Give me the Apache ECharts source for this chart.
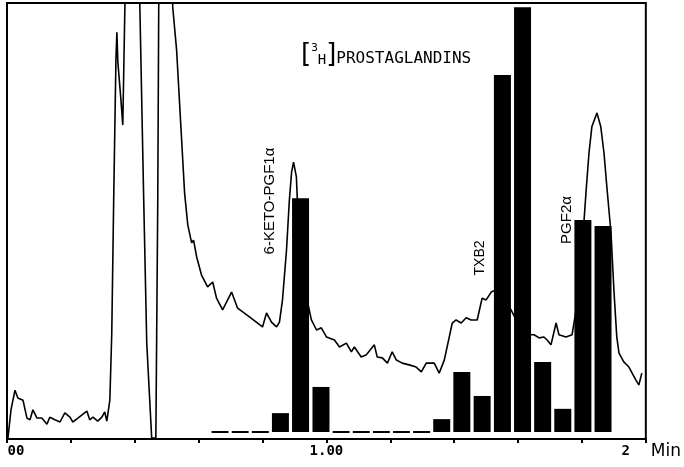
<!DOCTYPE html>
<html>
    <head>
        <meta charset="utf-8">
        <title>[3H] prostaglandins</title>
        <script src="https://cdn.jsdelivr.net/npm/echarts@6/dist/echarts.min.js"></script>
        <style>
            body { margin: 0; background: #fff; }
        </style>
    </head>
    <body>
        <div id="main" style="width:684px; height:467px;"></div>
        <script type="text/javascript">
            // detector trace (min, % of full scale; >100 = off scale)
            var traceTime = [0.003, 0.0125, 0.025, 0.034, 0.05, 0.0625, 0.072, 0.081, 0.094, 0.109, 0.125, 0.134, 0.15, 0.166, 0.181, 0.197, 0.206, 0.222, 0.25, 0.259, 0.269, 0.284, 0.297, 0.306, 0.3125, 0.322, 0.328, 0.334, 0.341, 0.344, 0.347, 0.356, 0.3625, 0.369, 0.375, 0.409, 0.416, 0.428, 0.4375, 0.453, 0.466, 0.472, 0.475, 0.481, 0.5125, 0.519, 0.531, 0.556, 0.566, 0.578, 0.584, 0.594, 0.609, 0.628, 0.644, 0.656, 0.675, 0.703, 0.722,
                0.728, 0.759, 0.8, 0.8125, 0.828, 0.844, 0.853, 0.8625, 0.875, 0.884, 0.891, 0.897, 0.906, 0.909, 0.925, 0.9375, 0.953, 0.969, 0.984, 1.0, 1.025, 1.041, 1.0625, 1.078, 1.0875, 1.109, 1.125, 1.15, 1.159, 1.175, 1.191, 1.206, 1.219, 1.2375, 1.259, 1.281, 1.297, 1.3125, 1.3375, 1.353, 1.369, 1.394, 1.406, 1.422, 1.4375, 1.453, 1.472, 1.4875, 1.5, 1.516, 1.531, 1.547, 1.5625, 1.578, 1.594, 1.603, 1.619, 1.634, 1.65, 1.666, 1.681, 1.691, 1.703, 1.719, 1.728, 1.75, 1.769, 1.784, 1.8, 1.8125, 1.822, 1.831, 1.847, 1.859, 1.869, 1.878, 1.891, 1.9, 1.909, 1.916, 1.931, 1.947, 1.969, 1.978, 1.9875]
            var traceSignal = [0.2, 6.7, 11.2, 9.4, 8.9, 4.8, 4.4, 6.7, 4.8, 4.8, 3.4, 5.0, 4.4, 3.9, 6.0, 5.0, 3.9, 4.8, 6.4, 4.4, 5.0, 4.1, 5.0, 6.2, 4.1, 8.9, 24.3, 54.8, 86.9, 93.3, 86.5, 78.4, 72.0, 98.9, 115, 115, 98.9, 54.8, 22.0, 0.2, 0.2, 54.8, 98.9, 115, 115, 98.9, 89.2, 56.4, 49.1, 45.0, 45.6, 41.7, 37.6, 34.9, 36.0, 32.3, 29.6, 33.7, 30.0,
                30.0, 28.0, 25.7, 28.9, 26.8, 25.7, 26.8, 31.9, 43.3, 54.8, 61.2, 63.5, 60.1, 54.8, 39.4, 32.6, 27.3, 25.0, 25.5, 23.4, 22.7, 21.1, 22.0, 20.0, 21.1, 18.8, 19.3, 21.6, 18.8, 18.6, 17.4, 20.0, 18.1, 17.4, 17.0, 16.5, 15.4, 17.4, 17.4, 15.1, 18.1, 26.6, 27.3, 26.6, 27.8, 27.3, 27.3, 32.3, 31.9, 33.7, 34.2, 33.5, 31.4, 29.6, 27.3, 28.0, 25.5, 23.9, 23.9, 23.2, 23.4, 22.7, 21.6, 26.6, 23.9, 23.4, 23.9, 30.7, 43.3, 56.4, 65.6, 71.6, 74.8, 71.6, 65.6, 57.8, 47.2, 34.2, 23.4, 19.7, 17.7, 16.5, 13.5, 12.4, 15.1]

            // collected fractions (min) and radioactivity (% of scale)
            var fracTime = [0.667, 0.730, 0.793, 0.856, 0.919, 0.983, 1.046, 1.109, 1.172, 1.235, 1.298, 1.361, 1.424, 1.4875, 1.551, 1.614, 1.677, 1.740, 1.803, 1.866]
            var fracCount = [0, 0, 0, 4.4, 54.5, 10.5, 0, 0, 0, 0, 0, 3.0, 14.0, 8.4, 83.2, 99, 16.3, 5.4, 49.4, 48.0]

            var xTicks = {0: '{a|00}', 1: '1.00', 2: '{c|2}'}

            var trace = []
            for (var i = 0; i < traceTime.length; i++) {
                trace.push([traceTime[i], traceSignal[i]])
            }
            var bars = []
            var dashes = []
            var half = 0.0265
            for (var j = 0; j < fracTime.length; j++) {
                bars.push([fracTime[j], fracCount[j]])
                if (fracCount[j] === 0) {
                    dashes.push({coords: [[fracTime[j] - half, 0], [fracTime[j] + half, 0]]})
                }
            }

            var myChart = echarts.init(document.querySelector('#main'))
            var option = {
                animation: false,
                grid: {
                    left: 7, right: 37, top: 3, bottom: 28,
                    show: true, borderColor: '#000', borderWidth: 2
                },
                xAxis: {
                    type: 'value', min: 0, max: 2, interval: 0.2,
                    name: 'Min', nameLocation: 'end', nameGap: 5,
                    nameTextStyle: {
                        color: '#000', fontSize: 17, fontFamily: 'DejaVu Sans',
                        verticalAlign: 'top', padding: [4, 0, 0, 0]
                    },
                    axisLine: {lineStyle: {color: '#000', width: 2}},
                    axisTick: {length: 4, lineStyle: {color: '#000', width: 2}},
                    splitLine: {show: false},
                    axisLabel: {
                        margin: 5, color: '#000', fontSize: 14,
                        fontFamily: 'DejaVu Sans Mono', fontWeight: 'bold',
                        formatter: function(v) {
                            var k = Math.round(v * 10) / 10
                            return xTicks[k] || ''
                        },
                        rich: {
                            a: {fontSize: 14, fontFamily: 'DejaVu Sans Mono', fontWeight: 'bold', color: '#000', padding: [0, 0, 0, 18]},
                            c: {fontSize: 14, fontFamily: 'DejaVu Sans Mono', fontWeight: 'bold', color: '#000', padding: [0, 40, 0, 0]}
                        }
                    }
                },
                yAxis: [
                    {type: 'value', min: 0, max: 100, show: false},
                    {type: 'value', min: -1.632, max: 100, show: false}
                ],
                graphic: [
                    {
                        type: 'text', x: 301, y: 41,
                        style: {
                            text: '{b|[}{s|3}{h|H}{b|]}{t|PROSTAGLANDINS}',
                            rich: {
                                b: {fontSize: 26, fontFamily: 'DejaVu Sans', fill: '#000', lineHeight: 28},
                                s: {fontSize: 11, fontFamily: 'DejaVu Sans Mono', fill: '#000', verticalAlign: 'top', padding: [2, 0, 0, 0]},
                                h: {fontSize: 14, fontFamily: 'DejaVu Sans Mono', fill: '#000', verticalAlign: 'bottom', padding: [0, 0, 2, 0]},
                                t: {fontSize: 16, fontFamily: 'DejaVu Sans Mono', fill: '#000', verticalAlign: 'bottom', padding: [0, 0, 2, 0]}
                            }
                        }
                    },
                    {
                        type: 'text', x: 270, y: 201, rotation: Math.PI / 2,
                        style: {text: '6-KETO-PGF1α', font: '15px "Liberation Sans"', fill: '#000', align: 'center', verticalAlign: 'middle'}
                    },
                    {
                        type: 'text', x: 480, y: 258, rotation: Math.PI / 2,
                        style: {text: 'TXB2', font: '14px "Liberation Sans"', fill: '#000', align: 'center', verticalAlign: 'middle'}
                    },
                    {
                        type: 'text', x: 567, y: 220, rotation: Math.PI / 2,
                        style: {text: 'PGF2α', font: '15px "Liberation Sans"', fill: '#000', align: 'center', verticalAlign: 'middle'}
                    }
                ],
                series: [
                    {
                        name: 'trace', type: 'line', data: trace,
                        showSymbol: false, clip: true, z: 3,
                        lineStyle: {color: '#000', width: 1.6}
                    },
                    {
                        name: 'cpm', type: 'bar', data: bars, yAxisIndex: 1,
                        barWidth: 17, clip: true, z: 2,
                        itemStyle: {color: '#000'}
                    },
                    {
                        name: 'zero', type: 'lines', coordinateSystem: 'cartesian2d',
                        xAxisIndex: 0, yAxisIndex: 1, data: dashes, silent: true,
                        lineStyle: {color: '#000', width: 2, opacity: 1}
                    }
                ]
            }
            myChart.setOption(option)
        </script>
    </body>
</html>
